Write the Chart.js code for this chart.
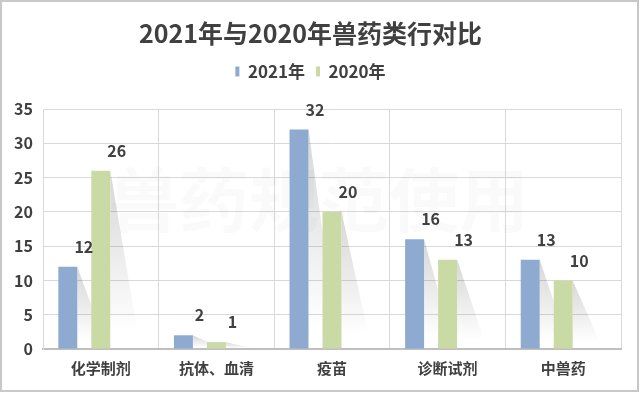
<!DOCTYPE html>
<html>
<head>
<meta charset="utf-8">
<script src="https://cdn.jsdelivr.net/npm/chart.js@4.4.0/dist/chart.umd.min.js"></script>
<style>
  html, body { margin: 0; padding: 0; background: #fff; }
</style>
</head>
<body>
<canvas id="chart" width="641" height="394"></canvas>
<script>
// data
const categories = ['化学制剂', '抗体、血清', '疫苗', '诊断试剂', '中兽药'];
const values2021 = [12, 2, 32, 16, 13];
const values2020 = [26, 1, 20, 13, 10];
const yTicks = [0, 5, 10, 15, 20, 25, 30, 35];

const fontFamily = "'Noto Sans CJK SC', 'Noto Sans', sans-serif";
const textColor = '#404040';
const colors = {
    blue: '#8eaad0',
    green: '#c9daa4',
    grid: '#d9d9d9',
    axis: '#bfbfbf'
};

// gray wedge shadow behind each bar + the faint watermark
const barShadow = {
    id: 'barShadow',
    beforeDatasetsDraw(chart) {
        const ctx = chart.ctx;
        const base = chart.scales.y.getPixelForValue(0);
        ctx.save();
        ctx.font = 'bold 70px ' + fontFamily;
        ctx.fillStyle = 'rgba(0,0,0,0.018)';
        ctx.textAlign = 'center';
        ctx.textBaseline = 'middle';
        ctx.fillText('兽药规范使用', 319, 200);
        chart.data.datasets.forEach((ds, i) => {
            chart.getDatasetMeta(i).data.forEach(bar => {
                const xr = bar.x + bar.width / 2;
                const g = ctx.createLinearGradient(0, bar.y, 0, base);
                g.addColorStop(0, 'rgba(0,0,0,0.16)');
                g.addColorStop(0.9, 'rgba(0,0,0,0)');
                ctx.fillStyle = g;
                ctx.beginPath();
                ctx.moveTo(xr, bar.y);
                ctx.lineTo(xr + 30, base);
                ctx.lineTo(xr, base);
                ctx.closePath();
                ctx.fill();
            });
        });
        ctx.restore();
    }
};

// value labels, set up and to the right of each bar
const valueLabels = {
    id: 'valueLabels',
    afterDatasetsDraw(chart) {
        const ctx = chart.ctx;
        ctx.save();
        ctx.font = 'bold 16px ' + fontFamily;
        ctx.fillStyle = textColor;
        ctx.textAlign = 'center';
        ctx.textBaseline = 'middle';
        chart.data.datasets.forEach((ds, i) => {
            chart.getDatasetMeta(i).data.forEach((bar, j) => {
                const v = ds.data[j];
                if (v == null) return;
                ctx.fillText(String(v), bar.x + 16, bar.y - 20);
            });
        });
        ctx.restore();
    },
    afterDraw(chart) {
        const ctx = chart.ctx;
        ctx.save();
        ctx.strokeStyle = '#c8c8c8';
        ctx.lineWidth = 2;
        ctx.strokeRect(1, 1, 637, 390);
        ctx.restore();
    }
};

Chart.defaults.font.family = fontFamily;
Chart.defaults.color = textColor;

const chart = new Chart(document.getElementById('chart'), {
    type: 'bar',
    data: {
        labels: categories,
        datasets: [
            {
                label: '2021年',
                data: values2021,
                backgroundColor: colors.blue
            },
            {
                label: '2020年',
                data: values2020,
                backgroundColor: colors.green
            },
            {
                // empty third slot, as in the original grouping
                label: '',
                data: [],
                backgroundColor: 'rgba(0,0,0,0)'
            }
        ]
    },
    options: {
        responsive: false,
        animation: false,
        categoryPercentage: 0.856,
        barPercentage: 0.575,
        layout: {
            padding: { left: 0, right: 20, top: 0, bottom: 0 }
        },
        plugins: {
            title: {
                display: true,
                text: '2021年与2020年兽药类行对比',
                color: textColor,
                font: { size: 25, weight: 'bold' },
                padding: { top: 18, bottom: 4 }
            },
            legend: {
                display: true,
                position: 'top',
                labels: {
                    boxWidth: 4,
                    boxHeight: 10,
                    padding: 11,
                    color: textColor,
                    font: { size: 17, weight: 'bold' },
                    filter: item => item.text !== ''
                }
            },
            subtitle: {
                // spacer between legend and plot
                display: true,
                text: '',
                weight: 500,
                font: { size: 1, lineHeight: 1 },
                padding: { top: 9, bottom: 9 }
            },
            tooltip: { enabled: false }
        },
        scales: {
            x: {
                grid: {
                    color: colors.grid,
                    lineWidth: 1,
                    drawTicks: false
                },
                border: { color: colors.axis, width: 2 },
                ticks: {
                    color: textColor,
                    padding: 10,
                    font: { size: 15, weight: 'bold' }
                },
                afterFit(scale) { scale.height = 45; }
            },
            y: {
                min: 0,
                max: 35,
                grid: {
                    color: colors.grid,
                    lineWidth: 1,
                    drawTicks: false
                },
                border: { color: colors.grid, width: 1 },
                ticks: {
                    color: textColor,
                    padding: 10,
                    font: { size: 16, weight: 'bold' }
                },
                afterBuildTicks(scale) {
                    scale.ticks = yTicks.map(v => ({ value: v }));
                },
                afterFit(scale) { scale.width = 43; }
            }
        }
    },
    plugins: [barShadow, valueLabels]
});
</script>
</body>
</html>
